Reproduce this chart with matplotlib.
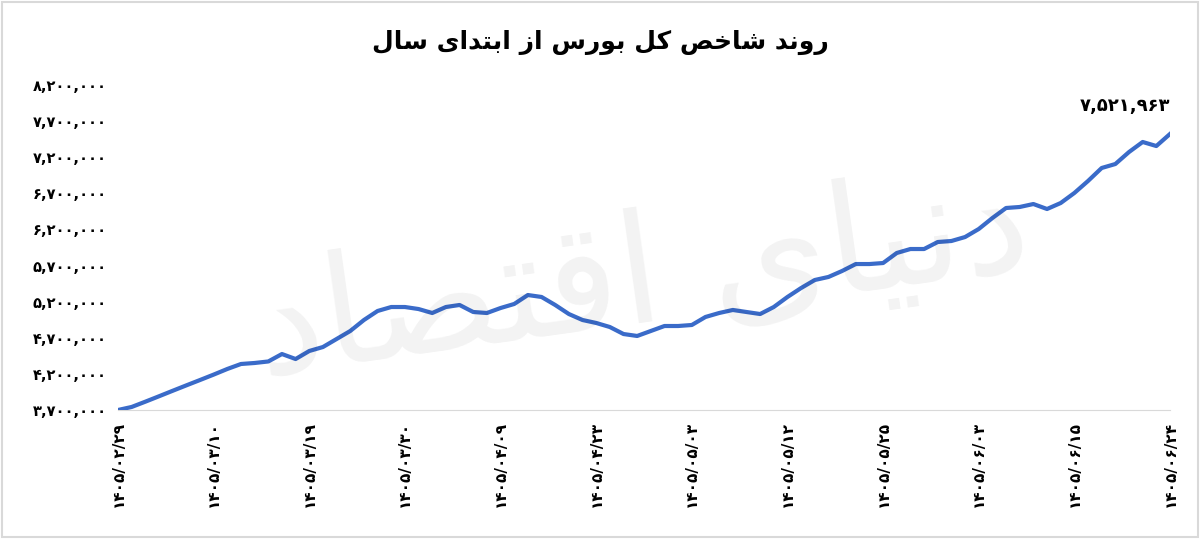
import matplotlib
matplotlib.use("Agg")
import matplotlib.pyplot as plt
import numpy as np

title_text = "روند شاخص کل بورس از ابتدای سال"
watermark_text = "دنیای اقتصاد"
values = [3700000, 3742000, 3815000, 3890000, 3966000, 4041000, 4115000, 4190000, 4268000, 4337000,
          4351000, 4372000, 4475000, 4406000, 4517000, 4572000, 4683000, 4794000, 4946000, 5071000,
          5126000, 5126000, 5098000, 5043000, 5126000, 5154000, 5057000, 5043000, 5112000, 5168000,
          5292000, 5265000, 5154000, 5029000, 4946000, 4905000, 4849000, 4752000, 4725000, 4794000,
          4863000, 4863000, 4877000, 4988000, 5043000, 5085000, 5057000, 5029000, 5126000, 5265000,
          5389000, 5500000, 5542000, 5625000, 5721000, 5721000, 5735000, 5874000, 5929000, 5929000,
          6026000, 6040000, 6095000, 6206000, 6358000, 6497000, 6511000, 6552000, 6483000, 6566000,
          6705000, 6871000, 7051000, 7106000, 7272000, 7411000, 7355000, 7521963]
tick_dates = ["1405/02/29", "1405/03/10", "1405/03/19", "1405/03/30", "1405/04/09", "1405/04/23",
              "1405/05/03", "1405/05/12", "1405/05/25", "1405/06/03", "1405/06/15", "1405/06/24"]
y_ticks = [3700000, 4200000, 4700000, 5200000, 5700000, 6200000, 6700000, 7200000, 7700000, 8200000]

FA = str.maketrans("0123456789", "۰۱۲۳۴۵۶۷۸۹")
FORMS = {  # iso, fin, ini, med
    'ا': (0xFE8D, 0xFE8E, None, None), 'ب': (0xFE8F, 0xFE90, 0xFE91, 0xFE92),
    'ت': (0xFE95, 0xFE96, 0xFE97, 0xFE98), 'خ': (0xFEA5, 0xFEA6, 0xFEA7, 0xFEA8),
    'د': (0xFEA9, 0xFEAA, None, None), 'ر': (0xFEAD, 0xFEAE, None, None),
    'ز': (0xFEAF, 0xFEB0, None, None), 'س': (0xFEB1, 0xFEB2, 0xFEB3, 0xFEB4),
    'ش': (0xFEB5, 0xFEB6, 0xFEB7, 0xFEB8), 'ص': (0xFEB9, 0xFEBA, 0xFEBB, 0xFEBC),
    'ق': (0xFED5, 0xFED6, 0xFED7, 0xFED8), 'ک': (0xFB8E, 0xFB8F, 0xFB90, 0xFB91),
    'ل': (0xFEDD, 0xFEDE, 0xFEDF, 0xFEE0), 'ن': (0xFEE5, 0xFEE6, 0xFEE7, 0xFEE8),
    'و': (0xFEED, 0xFEEE, None, None), 'ی': (0xFEEF, 0xFEF0, 0xFEF3, 0xFEF4),
}

def shape(s):
    out = []
    for i, c in enumerate(s):
        if c not in FORMS:
            out.append(c); continue
        f = FORMS[c]
        prev = s[i - 1] if i > 0 else ' '
        nxt = s[i + 1] if i + 1 < len(s) else ' '
        jp = prev in FORMS and FORMS[prev][2] is not None
        jn = f[2] is not None and nxt in FORMS
        if jp and jn: code = f[3]
        elif jp: code = f[1]
        elif jn: code = f[2]
        else: code = f[0]
        out.append(chr(code))
    return "".join(reversed(out))

def fa_num(v):
    return f"{v:,}".translate(FA)

plt.rcParams['font.family'] = ['DejaVu Sans']
fig = plt.figure(figsize=(12, 5.39), dpi=100)
ax = fig.add_axes([118/1200, 1 - 410/539, (1170-118)/1200, 325/539])
x = np.arange(len(values))
ax.plot(x, values, color='#3a6bc9', lw=3, solid_joinstyle='round', zorder=3)
ax.set_xlim(0, len(values) - 1)
ax.set_ylim(3700000, 8200000)
ax.set_yticks(y_ticks)
ax.set_yticklabels([fa_num(v) for v in y_ticks], fontsize=10.5, fontweight='bold')
ax.set_xticks(np.arange(0, len(values), 7))
ax.set_xticklabels([d.translate(FA) for d in tick_dates], rotation=90, fontsize=11, fontweight='bold')
ax.tick_params(length=0, pad=8)
for s in ['top', 'right', 'left']:
    ax.spines[s].set_visible(False)
ax.spines['bottom'].set_color('#d9d9d9')
ax.annotate(fa_num(values[-1]), (x[-1], values[-1]), xytext=(0, 14), textcoords='offset points',
            ha='right', va='bottom', fontsize=13, fontweight='bold')
fig.text(0.5, 1 - 42/539, shape(title_text), ha='center', va='center', fontsize=18, fontweight='bold')
fig.text(0.535, 1 - 280/539, shape(watermark_text), ha='center', va='center', fontsize=110,
         color='#000000', alpha=0.05, rotation=8, zorder=0)
fig.add_artist(plt.Rectangle((0.002, 0.004), 0.996, 0.992, transform=fig.transFigure,
                             fill=False, ec='#d9d9d9', lw=1.5))
fig.savefig("out.png", dpi=100)
